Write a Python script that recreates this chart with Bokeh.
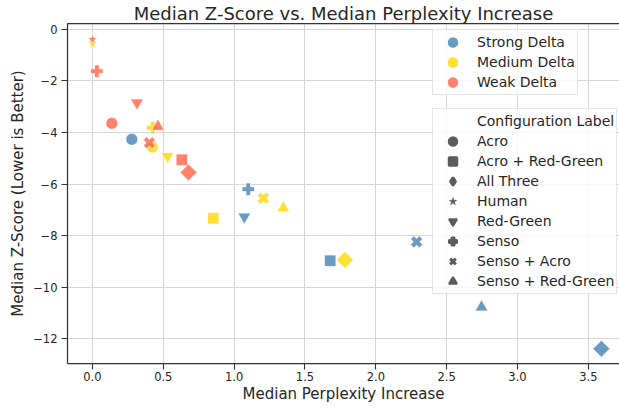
import numpy as np
from bokeh.plotting import figure
from bokeh.models import (ColumnDataSource, Range1d, FixedTicker, LinearAxis, Legend,
                          LegendItem, Title, PrintfTickFormatter, CustomJSTickFormatter)
from bokeh.embed import file_html
from bokeh.resources import INLINE

# ---------------- data ----------------
title_text = "Median Z-Score vs. Median Perplexity Increase"
x_label = "Median Perplexity Increase"
y_label = "Median Z-Score (Lower is Better)"

delta_names = ["Strong Delta", "Medium Delta", "Weak Delta"]
delta_colors = ["#4682B4", "#FFD700", "#FF6347"]
# the same colours as they look at 80% opacity on white (for legend swatches)
delta_colors_flat = ["#6B9BC3", "#FFDF33", "#FF826C"]

config_order = ["Acro", "Acro + Red-Green", "All Three", "Human", "Red-Green",
                "Senso", "Senso + Acro", "Senso + Red-Green"]

strong_labels = ["Acro", "Acro + Red-Green", "All Three", "Red-Green",
                 "Senso", "Senso + Acro", "Senso + Red-Green"]
strong_ppl = [0.278, 1.678, 3.592, 1.072, 1.100, 2.288, 2.746]
strong_z = [-4.27, -8.97, -12.38, -7.27, -6.20, -8.24, -10.77]

medium_labels = ["Acro", "Acro + Red-Green", "All Three", "Human", "Red-Green",
                 "Senso", "Senso + Acro", "Senso + Red-Green"]
medium_ppl = [0.423, 0.853, 1.782, 0.0, 0.530, 0.425, 1.206, 1.347]
medium_z = [-4.57, -7.33, -8.94, -0.58, -4.92, -3.82, -6.55, -6.93]

weak_labels = ["Acro", "Acro + Red-Green", "All Three", "Human", "Red-Green",
               "Senso", "Senso + Acro", "Senso + Red-Green"]
weak_ppl = [0.137, 0.631, 0.678, 0.0, 0.314, 0.031, 0.402, 0.462]
weak_z = [-3.65, -5.06, -5.55, -0.40, -2.85, -1.63, -4.40, -3.77]

x_ticks = [0.0, 0.5, 1.0, 1.5, 2.0, 2.5, 3.0, 3.5]
y_ticks = [-12, -10, -8, -6, -4, -2, 0]

# ---------------- style ----------------
FONT = "DejaVu Sans"
TXT = "#262626"
SPINE = "#333333"
LEG_GRAY = "#5c5c5c"
marker_style = {
    "Acro": ("circle", 0.0, 12),
    "Acro + Red-Green": ("square", 0.0, 11.5),
    "All Three": ("square", np.pi / 4, 12),
    "Human": ("star", 0.0, 11),
    "Red-Green": ("inverted_triangle", 0.0, 13),
    "Senso": ("plus", 0.0, 12.5),
    "Senso + Acro": ("plus", np.pi / 4, 12.5),
    "Senso + Red-Green": ("triangle", 0.0, 13),
}
# legend glyphs ignore rotation, so use look-alike markers there
legend_marker = {
    "Acro": ("circle", 2.5), "Acro + Red-Green": ("square", 2.5),
    "All Three": ("diamond", 2.5), "Human": ("star", 0.5),
    "Red-Green": ("inverted_triangle", 2.0), "Senso": ("plus", 2.0),
    "Senso + Acro": ("x", 3.0), "Senso + Red-Green": ("triangle", 2.0),
}

p = figure(width=619, height=408, output_backend="svg", toolbar_location=None,
           title=None,
           x_range=Range1d(-0.176, 3.72), y_range=Range1d(-12.95, 0.216),
           min_border_left=67, min_border_right=0, min_border_top=23,
           min_border_bottom=45)
p.outline_line_color = None
p.background_fill_color = "white"
p.border_fill_color = "white"

p.xaxis.ticker = FixedTicker(ticks=x_ticks)
p.xaxis.formatter = PrintfTickFormatter(format="%.1f")
p.yaxis.ticker = FixedTicker(ticks=y_ticks)
p.yaxis.formatter = CustomJSTickFormatter(
    code="return tick < 0 ? '\u2212' + String(-tick) : String(tick);")
p.xaxis.axis_label = x_label
p.yaxis.axis_label = y_label

for ax in (p.xaxis[0], p.yaxis[0]):
    ax.axis_line_color = SPINE
    ax.axis_line_width = 1.25
    ax.major_tick_line_color = SPINE
    ax.major_tick_line_width = 1.1
    ax.major_tick_in = 0
    ax.major_tick_out = 6
    ax.minor_tick_in = 0
    ax.minor_tick_out = 0
    ax.major_label_text_font = FONT
    ax.major_label_text_font_size = "11.5px"
    ax.major_label_text_color = TXT
    ax.axis_label_text_font = FONT
    ax.axis_label_text_font_size = "15px"
    ax.axis_label_text_font_style = "normal"
    ax.axis_label_text_color = TXT
p.xaxis.major_label_standoff = 2
p.xaxis.axis_label_standoff = 1
p.yaxis.major_label_standoff = 4
p.yaxis.axis_label_standoff = 3

top_axis = LinearAxis(ticker=FixedTicker(ticks=[]), major_tick_in=0, major_tick_out=0,
                      minor_tick_in=0, minor_tick_out=0, major_label_standoff=0,
                      major_label_text_font_size="0px", axis_line_color=SPINE,
                      axis_line_width=1.25)
p.add_layout(top_axis, "above")

p.grid.grid_line_color = "#d6d6d6"
p.grid.grid_line_width = 1

# ---------------- data marks ----------------
series = [(strong_labels, strong_ppl, strong_z),
          (medium_labels, medium_ppl, medium_z),
          (weak_labels, weak_ppl, weak_z)]
for (labels, xs, ys), col in zip(series, delta_colors):
    src = ColumnDataSource(dict(
        x=xs, y=ys,
        marker=[marker_style[l][0] for l in labels],
        angle=[marker_style[l][1] for l in labels],
        size=[marker_style[l][2] for l in labels],
    ))
    p.scatter(x="x", y="y", marker="marker", angle="angle", size="size", source=src,
              fill_color=col, fill_alpha=0.8, line_color="white", line_width=0.8,
              line_alpha=0.9)

# ---------------- legends ----------------
def legend_common(leg):
    leg.border_line_color = "#cccccc"
    leg.border_line_width = 1
    leg.background_fill_color = "white"
    leg.background_fill_alpha = 0.8
    leg.label_text_font = FONT
    leg.label_text_font_size = "14px"
    leg.label_text_color = TXT
    leg.glyph_width = 35
    leg.glyph_height = 20
    leg.label_height = 20
    leg.spacing = 0
    leg.padding = 2
    leg.margin = 0
    leg.label_standoff = 7

NAN = [float("nan")]
items1 = []
for name, col in zip(delta_names, delta_colors_flat):
    r = p.scatter(x=NAN, y=NAN, marker="circle", size=5, fill_color=col,
                  line_color=col, line_width=2.5)
    items1.append(LegendItem(label=name, renderers=[r]))
leg1 = Legend(items=items1, location=(365, 268))
legend_common(leg1)
p.add_layout(leg1)

items2 = []
r_title = p.scatter(x=NAN, y=NAN, marker="circle", size=5, fill_alpha=0, line_alpha=0)
items2.append(LegendItem(label="Configuration Label", renderers=[r_title]))
for cfg in config_order:
    mk, lw = legend_marker[cfg]
    r = p.scatter(x=NAN, y=NAN, marker=mk, size=5, fill_color=LEG_GRAY,
                  line_color=LEG_GRAY, line_width=lw)
    items2.append(LegendItem(label=cfg, renderers=[r]))
leg2 = Legend(items=items2, location=(365, 69))
legend_common(leg2)
p.add_layout(leg2)

# ---------------- title ----------------
p.add_layout(Title(text=title_text, align="center", text_font=FONT,
                   text_font_size="18px", text_font_style="normal", text_color=TXT,
                   standoff=0, offset=0), "above")

open("out.html", "w").write(file_html(p, INLINE))
